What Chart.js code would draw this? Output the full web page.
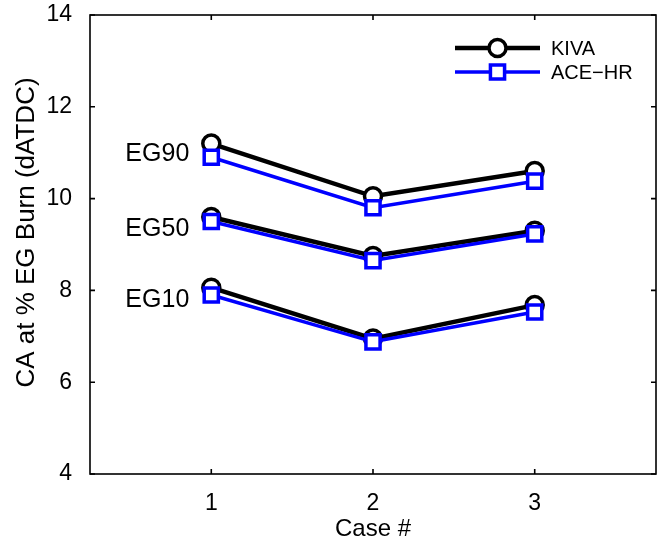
<!DOCTYPE html>
<html>
<head>
<meta charset="utf-8">
<script src="https://cdn.jsdelivr.net/npm/chart.js@4/dist/chart.umd.min.js"></script>
<style>
  html, body { margin: 0; padding: 0; background: #fff; }
  #wrap { width: 659px; height: 544px; position: relative; }
</style>
</head>
<body>
<div id="wrap"><canvas id="c" width="659" height="544"></canvas></div>
<script>
// Case numbers on the x axis
const cases = [1, 2, 3];

// Crank angle (dATDC) at 90 %, 50 % and 10 % end-gas burn
const kivaEG90 = [11.20, 10.05, 10.60];
const aceEG90  = [10.90,  9.80, 10.38];
const kivaEG50 = [ 9.60,  8.75,  9.30];
const aceEG50  = [ 9.50,  8.65,  9.23];
const kivaEG10 = [ 8.06,  6.95,  7.68];
const aceEG10  = [ 7.90,  6.88,  7.53];

// Group labels and the y value each one is centred on
const groupLabels = ['EG90', 'EG50', 'EG10'];
const groupLabelY = [10.97, 9.33, 7.79];

const xTicks = [1, 2, 3];
const yTicks = [4, 6, 8, 10, 12, 14];

const yTitle = 'CA at % EG Burn (dATDC)';

const FONT = '"Liberation Sans", Arial, Helvetica, sans-serif';

const pts = (ys) => cases.map((x, i) => ({ x: x, y: ys[i] }));

const kivaStyle = {
  borderColor: '#000000', borderWidth: 4.5,
  pointStyle: 'circle', pointRadius: 8.5, pointBorderWidth: 3.5,
  pointBackgroundColor: '#ffffff', pointBorderColor: '#000000',
  order: 2
};
const aceStyle = {
  borderColor: '#0000ff', borderWidth: 3.5,
  pointStyle: 'rect', pointRadius: 10, pointBorderWidth: 3.5,
  pointBackgroundColor: '#ffffff', pointBorderColor: '#0000ff',
  order: 1
};

const datasets = [
  Object.assign({ label: 'KIVA',   data: pts(kivaEG90) }, kivaStyle),
  Object.assign({ label: 'KIVA',   data: pts(kivaEG50) }, kivaStyle),
  Object.assign({ label: 'KIVA',   data: pts(kivaEG10) }, kivaStyle),
  Object.assign({ label: 'ACE\u2212HR', data: pts(aceEG90) }, aceStyle),
  Object.assign({ label: 'ACE\u2212HR', data: pts(aceEG50) }, aceStyle),
  Object.assign({ label: 'ACE\u2212HR', data: pts(aceEG10) }, aceStyle)
];

// Fixed scale sizes; drop the extra room Chart.js reserves for edge labels
const fixSize = (prop, size) => (s) => {
  s[prop] = size;
  s.paddingTop = 0; s.paddingBottom = 0; s.paddingLeft = 0; s.paddingRight = 0;
};

// Box around the plot area with inward ticks on all four sides
const boxPlugin = {
  id: 'boxAxes',
  afterDatasetsDraw(chart) {
    const { ctx, chartArea: a, scales: { x, y } } = chart;
    ctx.save();
    ctx.strokeStyle = '#000';
    ctx.lineWidth = 1.6;
    ctx.strokeRect(a.left, a.top, a.right - a.left, a.bottom - a.top);
    const tl = 5;
    ctx.beginPath();
    xTicks.forEach(v => {
      const px = x.getPixelForValue(v);
      ctx.moveTo(px, a.bottom); ctx.lineTo(px, a.bottom - tl);
      ctx.moveTo(px, a.top); ctx.lineTo(px, a.top + tl);
    });
    yTicks.forEach(v => {
      const py = y.getPixelForValue(v);
      ctx.moveTo(a.left, py); ctx.lineTo(a.left + tl, py);
      ctx.moveTo(a.right, py); ctx.lineTo(a.right - tl, py);
    });
    ctx.stroke();
    ctx.restore();
  }
};

// Rotated y-axis title, centred slightly above the middle of the axis
const yTitlePlugin = {
  id: 'yTitle',
  afterDraw(chart) {
    const { ctx, chartArea: a } = chart;
    ctx.save();
    ctx.translate(27, (a.top + a.bottom) / 2 - 12);
    ctx.rotate(-Math.PI / 2);
    ctx.font = '26px ' + FONT;
    ctx.fillStyle = '#000';
    ctx.textAlign = 'center';
    ctx.textBaseline = 'middle';
    ctx.fillText(yTitle, 0, 0);
    ctx.restore();
  }
};

// EG90 / EG50 / EG10 text to the left of case 1
const groupLabelPlugin = {
  id: 'groupLabels',
  afterDatasetsDraw(chart) {
    const { ctx, scales: { x, y } } = chart;
    ctx.save();
    ctx.font = '25px ' + FONT;
    ctx.fillStyle = '#000';
    ctx.textAlign = 'right';
    ctx.textBaseline = 'middle';
    const px = x.getPixelForValue(cases[0]) - 22;
    groupLabels.forEach((t, i) => ctx.fillText(t, px, y.getPixelForValue(groupLabelY[i])));
    ctx.restore();
  }
};

// Line-and-marker legend in the upper right corner
const legendPlugin = {
  id: 'lineLegend',
  afterDraw(chart) {
    const { ctx, chartArea: a } = chart;
    const entries = [datasets[0], datasets[3]];
    ctx.save();
    entries.forEach((ds, i) => {
      const cy = a.top + 33 + i * 24;
      const x0 = a.right - 201, x1 = a.right - 116, mx = (x0 + x1) / 2;
      ctx.strokeStyle = ds.borderColor;
      ctx.lineWidth = ds.borderWidth;
      ctx.beginPath(); ctx.moveTo(x0, cy); ctx.lineTo(x1, cy); ctx.stroke();
      ctx.lineWidth = ds.pointBorderWidth;
      ctx.fillStyle = '#fff';
      ctx.strokeStyle = ds.pointBorderColor;
      ctx.beginPath();
      if (ds.pointStyle === 'circle') {
        ctx.arc(mx, cy, ds.pointRadius, 0, Math.PI * 2);
      } else {
        const s = ds.pointRadius * Math.SQRT1_2;
        ctx.rect(mx - s, cy - s, 2 * s, 2 * s);
      }
      ctx.fill(); ctx.stroke();
      ctx.fillStyle = '#000';
      ctx.font = '20px ' + FONT;
      ctx.textAlign = 'left';
      ctx.textBaseline = 'middle';
      ctx.fillText(ds.label, x1 + 11, cy + 1);
    });
    ctx.restore();
  }
};

new Chart(document.getElementById('c'), {
  type: 'line',
  data: { datasets: datasets },
  plugins: [boxPlugin, groupLabelPlugin, legendPlugin, yTitlePlugin],
  options: {
    responsive: false,
    animation: false,
    layout: { autoPadding: false, padding: { top: 15, right: 3, left: 0, bottom: 0 } },
    plugins: { legend: { display: false }, tooltip: { enabled: false } },
    elements: { line: { tension: 0 } },
    scales: {
      x: {
        type: 'linear', min: 0.25, max: 3.75,
        afterBuildTicks: (s) => { s.ticks = xTicks.map(v => ({ value: v })); },
        afterFit: fixSize('height', 70),
        grid: { display: false }, border: { display: false },
        ticks: { color: '#000', font: { family: FONT, size: 23 }, padding: 8 },
        title: { display: true, text: 'Case #', color: '#000', font: { family: FONT, size: 24 }, padding: { top: 0, bottom: 0 } }
      },
      y: {
        type: 'linear', min: 4, max: 14,
        afterBuildTicks: (s) => { s.ticks = yTicks.map(v => ({ value: v })); },
        afterFit: fixSize('width', 90),
        grid: { display: false }, border: { display: false },
        ticks: { color: '#000', font: { family: FONT, size: 23 }, padding: 10 },
        title: { display: false }
      }
    }
  }
});
</script>
</body>
</html>
